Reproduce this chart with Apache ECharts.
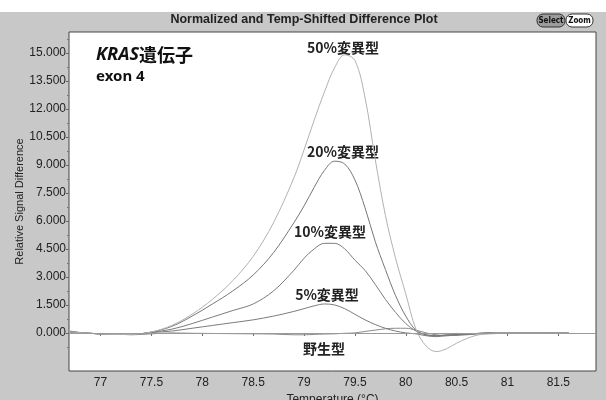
<!DOCTYPE html>
<html>
<head>
<meta charset="utf-8">
<script src="https://cdn.jsdelivr.net/npm/echarts@6/dist/echarts.min.js"></script>
<style>
  html, body { margin: 0; padding: 0; background: #ffffff; }
  #chart { width: 606px; height: 400px; }
</style>
</head>
<body>
<div id="chart"></div>
<script>
// Melting temperatures (°C) shared by every curve
const temps = [76.7, 76.9, 77.1, 77.3, 77.5, 77.7, 77.9, 78.1, 78.3, 78.5, 78.7, 78.9,
  79.0, 79.1, 79.2, 79.3, 79.4, 79.5, 79.6, 79.7, 79.8, 79.9, 80.0, 80.1, 80.2, 80.3,
  80.4, 80.5, 80.6, 80.7, 80.8, 80.9, 81.1, 81.35, 81.6];

// Relative signal difference for each sample
const mut50 = [0.05, -0.02, -0.08, -0.08, 0.05, 0.4, 1.0, 1.8, 2.8, 4.1, 5.9, 8.3,
  9.8, 11.4, 12.9, 14.2, 14.9, 14.6, 12.6, 9.3, 6.3, 4.0, 2.1, 0.2, -0.7, -1.0,
  -0.85, -0.55, -0.3, -0.12, -0.04, 0.0, 0.0, 0.0, 0.0];
const mut20 = [0.05, -0.02, -0.08, -0.08, 0.05, 0.35, 0.9, 1.55, 2.25, 3.1, 4.3, 5.9,
  6.8, 7.8, 8.7, 9.2, 9.05, 8.2, 6.7, 4.9, 3.4, 2.0, 0.9, 0.15, -0.1, -0.15,
  -0.1, -0.08, -0.05, -0.03, 0.0, 0.0, 0.0, 0.0, 0.0];
const mut10 = [0.05, -0.02, -0.08, -0.08, 0.03, 0.2, 0.5, 0.85, 1.2, 1.55, 2.25, 3.35,
  4.0, 4.5, 4.8, 4.8, 4.5, 3.9, 3.35, 2.6, 1.8, 1.1, 0.5, 0.1, -0.1, -0.15,
  -0.12, -0.1, -0.06, -0.03, 0.0, 0.0, 0.0, 0.0, 0.0];
const mut5 = [0.05, -0.02, -0.08, -0.08, 0.02, 0.1, 0.25, 0.4, 0.55, 0.7, 0.9, 1.15,
  1.3, 1.45, 1.55, 1.5, 1.3, 1.0, 0.7, 0.45, 0.25, 0.1, 0.0, -0.05, -0.15, -0.2,
  -0.15, -0.12, -0.08, -0.04, -0.02, 0.0, 0.0, 0.0, 0.0];
const wild = [0.1, -0.03, -0.05, -0.1, -0.05, 0.0, -0.02, -0.03, -0.04, -0.05, -0.06, -0.1,
  -0.1, -0.08, -0.06, -0.05, -0.02, 0.0, 0.08, 0.15, 0.22, 0.25, 0.25, 0.15, 0.0, -0.1,
  -0.15, -0.12, -0.1, -0.06, -0.05, -0.03, 0.0, 0.0, 0.0];

const xTicks = [77, 77.5, 78, 78.5, 79, 79.5, 80, 80.5, 81, 81.5];
const yTicks = [0, 1.5, 3, 4.5, 6, 7.5, 9, 10.5, 12, 13.5, 15];
const yMinor = [-0.75, 0.75, 2.25, 3.75, 5.25, 6.75, 8.25, 9.75, 11.25, 12.75, 14.25, 15.75];

const labelNames = ['50%変異型', '20%変異型', '10%変異型', '5%変異型', '野生型'];

function pairs(values) {
  return temps.map((t, i) => [t, values[i]]);
}

const chart = echarts.init(document.getElementById('chart'), null, { renderer: 'canvas' });

const curveStyle = (color) => ({
  type: 'line',
  showSymbol: false,
  smooth: 0.35,
  silent: true,
  lineStyle: { color: color, width: 1 },
  z: 3
});

const cjk = '"Noto Sans CJK JP", "Noto Sans", sans-serif';
const sans = '"Liberation Sans", Arial, sans-serif';
const noteStyle = { fill: '#222', font: 'bold 14px ' + cjk, textAlign: 'center', textVerticalAlign: 'middle' };
const btnFont = 'bold 8px "DejaVu Sans Condensed", "Liberation Sans Narrow", sans-serif';

chart.setOption({
  animation: false,
  backgroundColor: '#ffffff',
  grid: {
    left: 69, right: 10, top: 32, bottom: 29,
    outerBoundsMode: 'none', containLabel: false,
    show: true, backgroundColor: '#ffffff', borderColor: '#444', borderWidth: 1
  },
  xAxis: {
    type: 'value', min: 76.69, max: 81.87,
    name: 'Temperature (°C)', nameLocation: 'middle', nameGap: 23, nameMoveOverlap: false,
    nameTextStyle: { fontFamily: sans, fontSize: 12, color: '#222' },
    axisLine: { show: false },
    splitLine: { show: false },
    axisTick: { show: true, inside: false, length: 3, lineStyle: { color: '#666' }, customValues: xTicks },
    axisLabel: { customValues: xTicks, fontFamily: sans, fontSize: 12, color: '#222', margin: 6,
      formatter: (v) => String(v) }
  },
  yAxis: [{
    type: 'value', min: -2.04, max: 16.12,
    name: 'Relative Signal Difference', nameLocation: 'middle', nameGap: 44, nameMoveOverlap: false,
    nameTextStyle: { fontFamily: sans, fontSize: 11, color: '#222' },
    axisLine: { show: false },
    splitLine: { show: false },
    axisTick: { show: true, length: 3, lineStyle: { color: '#666' }, customValues: yTicks },
    axisLabel: { customValues: yTicks, fontFamily: sans, fontSize: 12, color: '#222', margin: 3,
      formatter: (v) => v.toFixed(3) }
  }, {
    type: 'value', min: -2.04, max: 16.12, position: 'left',
    axisLine: { show: false }, splitLine: { show: false },
    axisTick: { show: true, length: 2, lineStyle: { color: '#777' }, customValues: yMinor },
    axisLabel: { show: false }
  }],
  series: [
    Object.assign(curveStyle('#8a8a8a'), {
      name: labelNames[4], data: pairs(wild),
      markLine: { silent: true, symbol: 'none', label: { show: false },
        lineStyle: { color: '#9a9a9a', width: 1, type: 'solid' }, data: [{ yAxis: 0 }] }
    }),
    Object.assign(curveStyle('#7c7c7c'), { name: labelNames[3], data: pairs(mut5) }),
    Object.assign(curveStyle('#7c7c7c'), { name: labelNames[2], data: pairs(mut10) }),
    Object.assign(curveStyle('#777777'), { name: labelNames[1], data: pairs(mut20) }),
    Object.assign(curveStyle('#b2b2b2'), { name: labelNames[0], data: pairs(mut50) })
  ],
  graphic: [
    // grey panel behind the plot
    { type: 'rect', z: -10, silent: true, shape: { x: 0, y: 12, width: 606, height: 388 }, style: { fill: '#c8c8c8' } },
    { type: 'text', x: 304, y: 20, style: { text: 'Normalized and Temp-Shifted Difference Plot', fill: '#222',
      font: 'bold 12.5px ' + sans, textAlign: 'center', textVerticalAlign: 'middle' } },
    // Select / Zoom buttons
    { type: 'rect', shape: { x: 537, y: 14, width: 28, height: 13, r: 6 }, style: { fill: '#9c9c9c', stroke: '#333', lineWidth: 1 } },
    { type: 'text', x: 551, y: 20.5, style: { text: 'Select', fill: '#111', font: btnFont, textAlign: 'center', textVerticalAlign: 'middle' } },
    { type: 'rect', shape: { x: 566, y: 14, width: 27, height: 13, r: 6 }, style: { fill: '#ffffff', stroke: '#333', lineWidth: 1 } },
    { type: 'text', x: 579.5, y: 20.5, style: { text: 'Zoom', fill: '#111', font: btnFont, textAlign: 'center', textVerticalAlign: 'middle' } },
    // gene annotation
    { type: 'text', x: 96, y: 55, style: {
      text: '{i|KRAS}{b|遺伝子}', textVerticalAlign: 'middle',
      rich: {
        i: { font: 'italic bold 18px "Noto Sans", "Open Sans", sans-serif', fill: '#111' },
        b: { font: 'bold 18px ' + cjk, fill: '#111' }
      } } },
    { type: 'text', x: 96, y: 77, style: { text: 'exon 4', fill: '#111', font: 'bold 15px "Noto Sans", "Open Sans", sans-serif', textVerticalAlign: 'middle' } },
    // sample labels
    { type: 'text', x: 343, y: 48, style: Object.assign({ text: labelNames[0] }, noteStyle) },
    { type: 'text', x: 343, y: 152, style: Object.assign({ text: labelNames[1] }, noteStyle) },
    { type: 'text', x: 330, y: 232, style: Object.assign({ text: labelNames[2] }, noteStyle) },
    { type: 'text', x: 327, y: 295, style: Object.assign({ text: labelNames[3] }, noteStyle) },
    { type: 'text', x: 324, y: 349, style: Object.assign({ text: labelNames[4] }, noteStyle) }
  ]
});
</script>
</body>
</html>
